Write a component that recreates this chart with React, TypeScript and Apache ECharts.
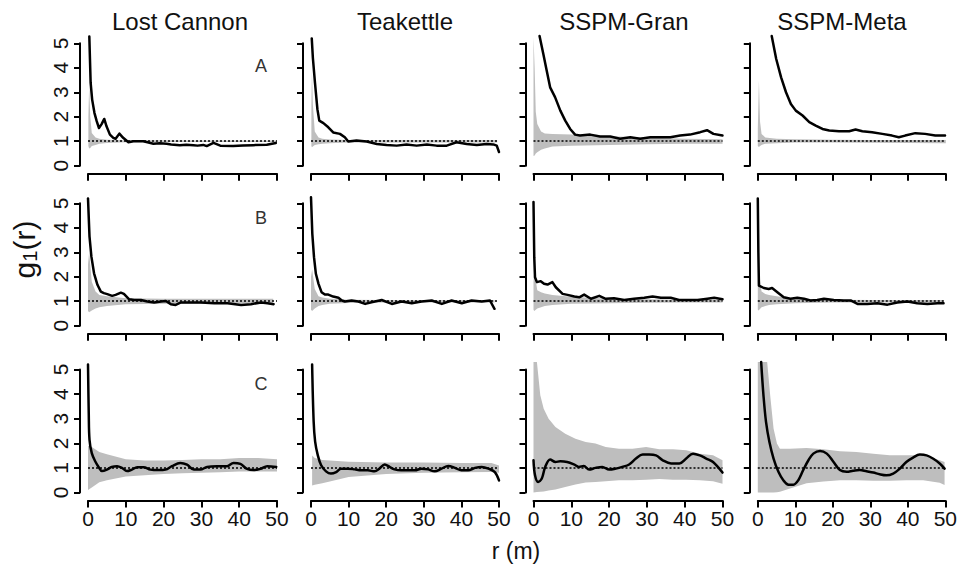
import React, { useEffect, useRef } from "react";
import * as echarts from "echarts";

const columnTitles = ["Lost Cannon", "Teakettle", "SSPM-Gran", "SSPM-Meta"];
const rowLetters = ["A", "B", "C"];
const xTicks = [0, 10, 20, 30, 40, 50];
const yTicks = [0, 1, 2, 3, 4, 5];

// ---------- Row A ----------
const r_LC_A = [0.35, 0.7, 1.1, 1.7, 2.3, 2.9, 3.6, 4.3, 4.9, 5.8, 6.7, 7.3, 8.3, 9.3, 10.7, 12, 14.6, 16, 17.3, 19, 20.8, 22, 24.3, 26, 27.9, 29, 30.5, 31.4, 33.2, 35, 38.4, 41, 43.7, 47.3, 49.7];
const g_LC_A = [5.28, 3.38, 2.7, 2.16, 1.82, 1.54, 1.7, 1.91, 1.61, 1.27, 1.14, 1.1, 1.31, 1.14, 0.96, 1.0, 1.0, 0.95, 0.9, 0.92, 0.9, 0.87, 0.84, 0.86, 0.84, 0.82, 0.85, 0.8, 0.93, 0.82, 0.8, 0.83, 0.84, 0.86, 0.93];
const e_LC_A = [0.1, 0.3, 0.6, 1, 2, 3, 5, 10, 20, 30, 40, 50];
const lo_LC_A = [0.8, 0.7, 0.72, 0.8, 0.85, 0.9, 0.93, 0.96, 0.97, 0.97, 0.97, 0.97];
const hi_LC_A = [2.0, 3.24, 2.0, 1.34, 1.15, 1.1, 1.06, 1.04, 1.04, 1.03, 1.03, 1.03];

const r_TK_A = [0.2, 0.5, 1.06, 1.7, 2.2, 3.3, 4.6, 5.9, 7.7, 9, 9.9, 12.1, 14.8, 17.5, 20.1, 22.8, 25.4, 28.1, 30.8, 33.4, 36.1, 38.7, 41.4, 44.1, 46.7, 48.5, 49.4, 50];
const g_TK_A = [5.2, 4.4, 3.38, 2.31, 1.84, 1.74, 1.57, 1.36, 1.3, 1.16, 0.99, 1.03, 0.99, 0.89, 0.85, 0.82, 0.87, 0.82, 0.87, 0.82, 0.82, 0.96, 0.89, 0.85, 0.89, 0.87, 0.82, 0.56];
const e_TK_A = [0.1, 0.25, 0.5, 1, 2, 3, 5, 10, 20, 30, 40, 49.5];
const lo_TK_A = [0.8, 0.75, 0.78, 0.85, 0.88, 0.9, 0.92, 0.95, 0.95, 0.95, 0.95, 0.95];
const hi_TK_A = [2.5, 3.86, 2.5, 1.4, 1.15, 1.1, 1.07, 1.05, 1.05, 1.05, 1.05, 1.05];

const r_SG_A = [1.6, 2.6, 3.5, 4.4, 5.7, 7.1, 8.4, 9.7, 11, 12.3, 15, 17.6, 20.3, 22.9, 25.6, 28.2, 30.9, 33.5, 36.2, 38.8, 41.4, 44.1, 45.9, 47.6, 50];
const g_SG_A = [5.3, 4.56, 3.88, 3.2, 2.8, 2.25, 1.84, 1.5, 1.27, 1.23, 1.27, 1.19, 1.19, 1.1, 1.16, 1.1, 1.16, 1.16, 1.16, 1.23, 1.27, 1.37, 1.45, 1.3, 1.23];
const e_SG_A = [0, 0.3, 0.6, 1, 2, 3, 5, 10, 20, 30, 40, 50];
const lo_SG_A = [0.4, 0.42, 0.5, 0.55, 0.65, 0.7, 0.78, 0.82, 0.85, 0.88, 0.9, 0.9];
const hi_SG_A = [5.25, 4.0, 2.2, 1.7, 1.4, 1.32, 1.3, 1.27, 1.2, 1.15, 1.1, 1.08];

const r_SM_A = [3.7, 4.9, 6.2, 7.5, 8.8, 10.1, 11.9, 13.7, 15.4, 17.2, 19, 21.6, 24.3, 26, 27.8, 30.4, 33.1, 35.7, 37.5, 39.2, 41.9, 44.5, 47.2, 49.8];
const g_SM_A = [5.3, 4.36, 3.61, 3.0, 2.52, 2.25, 2.05, 1.78, 1.64, 1.5, 1.44, 1.41, 1.41, 1.48, 1.41, 1.37, 1.3, 1.23, 1.16, 1.23, 1.33, 1.3, 1.23, 1.23];
const e_SM_A = [0, 0.3, 0.6, 1, 2, 5, 10, 20, 30, 40, 50];
const lo_SM_A = [0.8, 0.76, 0.8, 0.85, 0.9, 0.92, 0.95, 0.95, 0.94, 0.93, 0.92];
const hi_SM_A = [1.5, 3.48, 1.8, 1.3, 1.15, 1.1, 1.08, 1.06, 1.05, 1.05, 1.05];

// ---------- Row B ----------
const r_LC_B = [0, 0.4, 0.9, 1.6, 2.5, 3.4, 4.2, 5.1, 6.4, 7.3, 8.7, 9.5, 10.9, 12.2, 14, 15.7, 17.5, 19.3, 20.6, 21.9, 23.2, 24.6, 26.3, 29.9, 33.4, 36.9, 40.5, 43.1, 45.8, 47.5, 49.1];
const g_LC_B = [5.2, 3.64, 2.82, 2.14, 1.67, 1.39, 1.33, 1.29, 1.22, 1.26, 1.35, 1.3, 1.08, 1.05, 1.05, 0.99, 0.95, 0.99, 1.01, 0.88, 0.85, 0.95, 0.95, 0.95, 0.92, 0.92, 0.85, 0.88, 0.95, 0.92, 0.88];
const e_LC_B = [0, 0.3, 1, 2, 3, 5, 10, 20, 30, 40, 49];
const lo_LC_B = [0.6, 0.55, 0.62, 0.7, 0.75, 0.8, 0.88, 0.9, 0.9, 0.92, 0.92];
const hi_LC_B = [2.5, 3.0, 1.8, 1.4, 1.25, 1.2, 1.12, 1.1, 1.1, 1.1, 1.1];

const r_TK_B = [0, 0.35, 0.8, 1.3, 2, 2.8, 3.7, 4.6, 5.9, 7.3, 8.2, 9, 10.8, 12.6, 14.4, 16.1, 18.8, 21.5, 24.1, 26.8, 29.4, 32.1, 34.8, 37.4, 40.1, 42.7, 45.4, 47.6, 48.8];
const g_TK_B = [5.25, 3.75, 2.8, 2.12, 1.71, 1.37, 1.27, 1.27, 1.19, 1.14, 1.03, 0.99, 1.03, 0.99, 0.89, 0.96, 1.05, 0.89, 0.99, 0.92, 0.99, 1.03, 0.89, 1.03, 0.92, 1.03, 0.99, 1.03, 0.69];
const e_TK_B = [0, 0.3, 1, 2, 3, 5, 10, 20, 30, 40, 48.8];
const lo_TK_B = [0.65, 0.6, 0.7, 0.8, 0.85, 0.9, 0.93, 0.95, 0.95, 0.95, 0.95];
const hi_TK_B = [2.0, 2.3, 1.5, 1.2, 1.15, 1.1, 1.06, 1.05, 1.05, 1.05, 1.05];

const r_SG_B = [0, 0.2, 0.4, 0.9, 1.9, 2.8, 3.7, 5, 5.9, 7.7, 9, 10.8, 12.1, 13.4, 15.2, 17.4, 19.1, 21.3, 24, 26.6, 29.3, 31.5, 33.7, 36.3, 38.5, 40.7, 43.4, 46, 47.8, 50];
const g_SG_B = [5.05, 2.8, 1.98, 1.78, 1.82, 1.71, 1.68, 1.78, 1.57, 1.3, 1.26, 1.19, 1.16, 1.27, 1.1, 1.22, 1.1, 1.12, 1.05, 1.1, 1.14, 1.19, 1.14, 1.14, 1.05, 1.05, 1.05, 1.1, 1.14, 1.08];
const e_SG_B = [0, 0.2, 1, 2, 3, 5, 10, 20, 30, 40, 50];
const lo_SG_B = [0.65, 0.6, 0.7, 0.75, 0.8, 0.85, 0.9, 0.92, 0.94, 0.95, 0.95];
const hi_SG_B = [1.8, 2.25, 1.45, 1.37, 1.32, 1.25, 1.18, 1.1, 1.08, 1.06, 1.05];

const r_SM_B = [0, 0.15, 0.3, 1.6, 2.9, 3.8, 5.2, 6.9, 8.7, 10.5, 12.3, 14, 15.8, 17.6, 20.2, 22.9, 24.7, 26.5, 29.1, 31.8, 34.5, 37.1, 39.8, 42.4, 45.1, 47.8, 49.4];
const g_SM_B = [5.2, 3.0, 1.64, 1.54, 1.5, 1.54, 1.37, 1.16, 1.1, 1.14, 1.1, 1.03, 1.05, 1.1, 1.05, 1.03, 1.03, 0.89, 0.89, 0.92, 0.86, 0.95, 0.99, 0.92, 0.89, 0.92, 0.92];
const e_SM_B = [0, 0.2, 1, 2, 3, 5, 10, 20, 30, 40, 49.4];
const lo_SM_B = [0.65, 0.62, 0.75, 0.8, 0.85, 0.88, 0.92, 0.95, 0.95, 0.95, 0.95];
const hi_SM_B = [1.8, 2.25, 1.4, 1.3, 1.25, 1.2, 1.1, 1.06, 1.05, 1.05, 1.05];

// ---------- Row C ----------
const r_LC_C = [0, 0.2, 0.4, 1, 1.9, 2.8, 3.7, 5, 6.3, 7.7, 9, 10.3, 11.6, 13, 14.7, 16.5, 18.7, 20.5, 22.2, 24.4, 26.2, 28, 29.7, 31.5, 34.1, 36.8, 38.5, 40.3, 42.1, 43.8, 45.6, 47.4, 49.8];
const g_LC_C = [5.2, 3.2, 2.14, 1.6, 1.27, 1.04, 0.87, 0.93, 1.04, 1.07, 1.0, 0.87, 0.93, 1.03, 1.03, 0.93, 0.91, 0.93, 1.07, 1.2, 1.13, 0.93, 0.93, 1.04, 1.07, 1.07, 1.2, 1.16, 0.96, 0.91, 0.96, 1.07, 1.04];
const e_LC_C = [0, 1, 3, 5, 10, 15, 20, 25, 30, 35, 40, 45, 50];
const lo_LC_C = [0.1, 0.2, 0.42, 0.5, 0.65, 0.7, 0.75, 0.78, 0.8, 0.82, 0.85, 0.85, 0.85];
const hi_LC_C = [1.9, 1.85, 1.65, 1.55, 1.35, 1.3, 1.3, 1.32, 1.35, 1.35, 1.4, 1.4, 1.35];

const r_TK_C = [0.3, 0.7, 1.1, 1.8, 2.7, 4, 5.3, 6.7, 8, 9.8, 11.6, 13.3, 15.1, 16.9, 18.2, 19.6, 20.9, 22.2, 24, 25.8, 27.6, 29.4, 31.1, 32.9, 34.7, 36.5, 38.3, 40, 41.8, 43.6, 45.4, 47.2, 48.9, 50];
const g_TK_C = [5.2, 2.9, 2.07, 1.52, 1.11, 0.86, 0.77, 0.83, 0.97, 0.97, 0.94, 0.9, 0.9, 0.86, 0.97, 1.14, 1.04, 0.94, 0.9, 0.9, 0.9, 0.97, 0.94, 0.86, 0.97, 1.08, 1.0, 0.9, 0.9, 1.0, 1.04, 0.97, 0.83, 0.49];
const e_TK_C = [0.3, 1, 3, 5, 10, 20, 30, 40, 48, 50];
const lo_TK_C = [0.28, 0.32, 0.38, 0.45, 0.63, 0.75, 0.8, 0.82, 0.83, 0.8];
const hi_TK_C = [1.5, 1.4, 1.32, 1.3, 1.25, 1.22, 1.22, 1.2, 1.2, 1.1];

const r_SG_C = [0, 0.4, 1.2, 2.2, 3.1, 4.4, 5.8, 7.1, 8.9, 10.7, 12, 13.3, 14.7, 16.4, 18.2, 20, 21.8, 23.5, 25.3, 27.1, 28.9, 30.6, 32.4, 34.2, 36.4, 38.6, 40.4, 42.2, 44, 45.7, 47.5, 50];
const g_SG_C = [1.31, 0.7, 0.43, 0.57, 1.04, 1.34, 1.24, 1.27, 1.24, 1.14, 1.04, 1.08, 0.93, 1.0, 1.04, 0.93, 0.97, 1.04, 1.14, 1.38, 1.54, 1.54, 1.51, 1.31, 1.18, 1.18, 1.38, 1.58, 1.51, 1.38, 1.24, 0.81];
const e_SG_C = [0, 0.9, 1.8, 2.7, 4, 5.8, 8.4, 11.1, 13.8, 16.4, 19.1, 22.6, 26.2, 29.8, 33.3, 36.9, 40.4, 44, 47.5, 50];
const lo_SG_C = [0.0, 0.02, 0.03, 0.04, 0.08, 0.12, 0.22, 0.33, 0.41, 0.43, 0.46, 0.5, 0.5, 0.52, 0.55, 0.52, 0.52, 0.5, 0.46, 0.36];
const hi_SG_C = [5.3, 5.3, 3.95, 3.4, 3.0, 2.66, 2.39, 2.19, 2.05, 1.99, 1.85, 1.78, 1.78, 1.85, 1.76, 1.76, 1.72, 1.58, 1.51, 1.31];

const r_SM_C = [0.9, 1.5, 2.2, 3.1, 4.2, 5.5, 6.8, 8.2, 9.5, 10.8, 12.1, 13.5, 14.8, 16.6, 18.4, 20.2, 21.9, 23.7, 25.4, 27.2, 29, 30.8, 32.5, 34.3, 36.1, 37.9, 39.6, 41.4, 43.2, 45, 46.7, 48.5, 49.8];
const g_SM_C = [5.3, 3.97, 2.86, 2.05, 1.38, 0.84, 0.5, 0.32, 0.32, 0.5, 0.91, 1.31, 1.58, 1.69, 1.58, 1.24, 0.91, 0.84, 0.88, 0.91, 0.86, 0.81, 0.74, 0.7, 0.77, 0.97, 1.24, 1.42, 1.54, 1.51, 1.38, 1.18, 0.97];
const e_SM_C = [0, 2.5, 3.3, 4.2, 5.1, 5.9, 8.6, 13, 17.5, 21.9, 26.3, 30.8, 35.2, 39.6, 44.1, 48.5, 49.8];
const lo_SM_C = [0, 0, 0, 0, 0.01, 0.03, 0.16, 0.38, 0.45, 0.5, 0.5, 0.48, 0.48, 0.5, 0.5, 0.4, 0.3];
const hi_SM_C = [5.3, 5.3, 3.95, 2.6, 1.99, 1.78, 1.78, 1.81, 1.76, 1.68, 1.65, 1.58, 1.51, 1.51, 1.51, 1.31, 1.24];

const panels = [
  { row: 0, col: 0, lr: r_LC_A, lg: g_LC_A, er: e_LC_A, lo: lo_LC_A, hi: hi_LC_A },
  { row: 0, col: 1, lr: r_TK_A, lg: g_TK_A, er: e_TK_A, lo: lo_TK_A, hi: hi_TK_A },
  { row: 0, col: 2, lr: r_SG_A, lg: g_SG_A, er: e_SG_A, lo: lo_SG_A, hi: hi_SG_A },
  { row: 0, col: 3, lr: r_SM_A, lg: g_SM_A, er: e_SM_A, lo: lo_SM_A, hi: hi_SM_A },
  { row: 1, col: 0, lr: r_LC_B, lg: g_LC_B, er: e_LC_B, lo: lo_LC_B, hi: hi_LC_B },
  { row: 1, col: 1, lr: r_TK_B, lg: g_TK_B, er: e_TK_B, lo: lo_TK_B, hi: hi_TK_B },
  { row: 1, col: 2, lr: r_SG_B, lg: g_SG_B, er: e_SG_B, lo: lo_SG_B, hi: hi_SG_B },
  { row: 1, col: 3, lr: r_SM_B, lg: g_SM_B, er: e_SM_B, lo: lo_SM_B, hi: hi_SM_B },
  { row: 2, col: 0, lr: r_LC_C, lg: g_LC_C, er: e_LC_C, lo: lo_LC_C, hi: hi_LC_C },
  { row: 2, col: 1, lr: r_TK_C, lg: g_TK_C, er: e_TK_C, lo: lo_TK_C, hi: hi_TK_C },
  { row: 2, col: 2, lr: r_SG_C, lg: g_SG_C, er: e_SG_C, lo: lo_SG_C, hi: hi_SG_C },
  { row: 2, col: 3, lr: r_SM_C, lg: g_SM_C, er: e_SM_C, lo: lo_SM_C, hi: hi_SM_C },
];

const FONT = '"Liberation Sans", Arial, sans-serif';
const colLeft = [88, 311, 533.5, 757.8];
const colWidth = [189, 188, 189, 188];
const rowTop = [43.3, 203.3, 369.5];
const rowHeight = [122.4, 122.4, 123];
const titleX = [180, 405, 624, 842];
const letterY = [66, 218, 384];

function buildOption() {
  const grid: any[] = [];
  const xAxis: any[] = [];
  const yAxis: any[] = [];
  const series: any[] = [];
  panels.forEach((p, i) => {
    grid.push({ left: colLeft[p.col], top: rowTop[p.row], width: colWidth[p.col], height: rowHeight[p.row] });
    xAxis.push({
      type: "value", gridIndex: i, min: xTicks[0], max: xTicks[xTicks.length - 1], interval: 10, offset: 8,
      axisLine: { show: true, onZero: false, lineStyle: { color: "#000", width: 2 } },
      axisTick: { show: true, length: 7, lineStyle: { color: "#000", width: 2 } },
      axisLabel: { show: p.row === 2, fontSize: 21, color: "#111", margin: 7, fontFamily: FONT },
      splitLine: { show: false },
    });
    const isNameAxis = p.col === 0 && p.row === 1;
    yAxis.push({
      type: "value", gridIndex: i, min: yTicks[0], max: yTicks[yTicks.length - 1], interval: 1, offset: 8,
      axisLine: { show: true, onZero: false, lineStyle: { color: "#000", width: 2 } },
      axisTick: { show: true, length: 6, lineStyle: { color: "#000", width: 2 } },
      axisLabel: { show: false },
      splitLine: { show: false },
      name: isNameAxis ? "{a|g}{b|1}{a|(r)}" : "",
      nameLocation: "middle",
      nameRotate: 90,
      nameGap: 40,
      nameTextStyle: {
        padding: [0, 0, 0, 30],
        rich: {
          a: { fontSize: 30, fontFamily: FONT, color: "#111", lineHeight: 32, verticalAlign: "middle" },
          b: { fontSize: 20, fontFamily: FONT, color: "#111", lineHeight: 20, verticalAlign: "bottom" },
        },
      },
    });
    const common = { xAxisIndex: i, yAxisIndex: i, silent: true, animation: false };
    const er = p.er, lo = p.lo, hi = p.hi;
    series.push({
      ...common, type: "custom", z: 1, clip: false,
      data: [[er[0], lo[0]]],
      renderItem: (_params: any, api: any) => {
        const pts: number[][] = [];
        for (let k = 0; k < er.length; k++) pts.push(api.coord([er[k], hi[k]]));
        for (let k = er.length - 1; k >= 0; k--) pts.push(api.coord([er[k], lo[k]]));
        return { type: "polygon", shape: { points: pts }, style: { fill: "#bebebe", stroke: null } };
      },
    });
    series.push({
      ...common, type: "line", z: 2, data: [], symbol: "none",
      markLine: {
        silent: true, symbol: ["none", "none"], label: { show: false },
        lineStyle: { color: "#000", type: [2, 2], width: 1.5 },
        data: [{ yAxis: 1 }],
      },
    });
    series.push({
      ...common, type: "line", z: 3, symbol: "none", clip: false,
      data: p.lr.map((r, k) => [r, p.lg[k]]),
      smooth: p.row === 2 ? 0.35 : false,
      lineStyle: { color: "#000", width: 2.5, join: "round", cap: "round" },
    });
    if (p.col === 0) {
      // y tick labels, rotated to run along the axis
      series.push({
        ...common, type: "custom", z: 5, clip: false,
        data: yTicks.map((v) => [xTicks[0], v]),
        renderItem: (_params: any, api: any) => {
          const v = api.value(1);
          const pt = api.coord([api.value(0), v]);
          return {
            type: "text", x: pt[0] - 27.5, y: pt[1], rotation: Math.PI / 2,
            style: { text: String(v), font: `21px ${FONT}`, fill: "#111", align: "center", verticalAlign: "middle" },
          };
        },
      });
    }
  });

  const graphic: any[] = [];
  columnTitles.forEach((t, c) => {
    graphic.push({
      type: "text", x: titleX[c], y: 21, silent: true, z: 10,
      style: { text: t, font: `24px ${FONT}`, fill: "#111", textAlign: "center", textVerticalAlign: "middle", align: "center", verticalAlign: "middle" },
    });
  });
  rowLetters.forEach((l, r) => {
    graphic.push({
      type: "text", x: 261, y: letterY[r], silent: true, z: 10,
      style: { text: l, font: `18px ${FONT}`, fill: "#333", textAlign: "center", textVerticalAlign: "middle", align: "center", verticalAlign: "middle" },
    });
  });
  graphic.push({
    type: "text", x: 516, y: 551, silent: true, z: 10,
    style: { text: "r (m)", font: `23px ${FONT}`, fill: "#111", textAlign: "center", textVerticalAlign: "middle", align: "center", verticalAlign: "middle" },
  });

  return { animation: false, backgroundColor: "#fff", grid, xAxis, yAxis, series, graphic };
}

export default function App() {
  const ref = useRef<HTMLDivElement>(null);
  useEffect(() => {
    if (!ref.current) return;
    const chart = echarts.init(ref.current, undefined, { renderer: "svg" });
    chart.setOption(buildOption() as any);
    return () => chart.dispose();
  }, []);
  return <div ref={ref} style={{ position: "absolute", left: 0, top: 0, width: 960, height: 565 }} />;
}
